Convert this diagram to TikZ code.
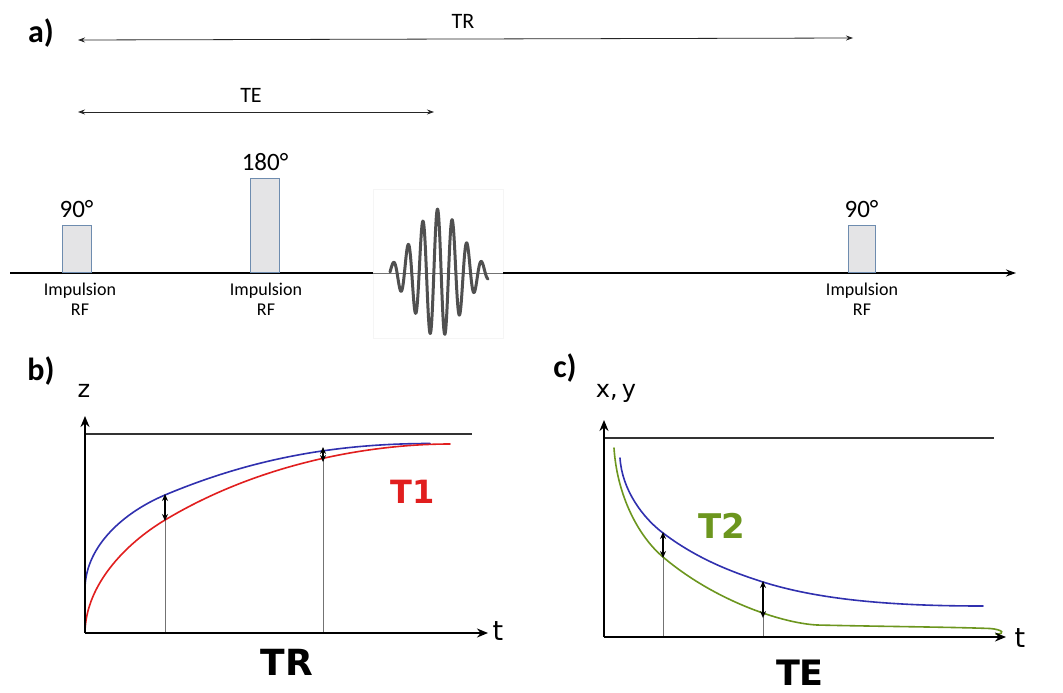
\documentclass[tikz,border=0pt]{standalone}
\usepackage{fontspec}
\setmainfont{Carlito}
\newfontfamily\dv{DejaVu Sans}
\usetikzlibrary{arrows.meta}
\definecolor{cblue}{RGB}{48,48,175}
\definecolor{cred}{RGB}{225,30,30}
\definecolor{cgreen}{RGB}{108,150,30}
\definecolor{pulsefill}{RGB}{228,228,230}
\definecolor{pulseedge}{RGB}{110,140,175}
\definecolor{wavegray}{RGB}{80,80,80}
\tikzset{
  span/.style={{Stealth[length=7pt,width=5pt]}-{Stealth[length=7pt,width=5pt]}, line width=0.8pt, black!85},
  pulsebox/.style={draw=pulseedge, fill=pulsefill, line width=0.9pt, minimum width=29pt, anchor=south, inner sep=0pt},
  small/.style={font=\fontsize{18}{20}\selectfont, align=center, inner sep=0pt},
  deg/.style={font=\fontsize{25}{27}\selectfont, inner sep=0pt},
  toplab/.style={font=\fontsize{22}{24}\selectfont, inner sep=0pt},
  axis/.style={-{Stealth[length=11pt,width=9pt]}, line width=1.8pt, black},
  guide/.style={line width=0.6pt, black!55},
  dbl/.style={{Stealth[length=7pt,width=6pt]}-{Stealth[length=7pt,width=6pt]}, line width=1.2pt, black},
  panel/.style={font=\fontsize{32}{34}\selectfont\bfseries, inner sep=0pt},
  big/.style={font=\dv\bfseries\fontsize{36}{38}\selectfont, inner sep=0pt},
  axlab/.style={font=\dv\fontsize{24}{26}\selectfont, inner sep=0pt},
  curve/.style={line width=1.6pt, line cap=round},
}
\begin{document}
\begin{tikzpicture}[x=1pt,y=-1pt]
\useasboundingbox[fill=white] (0,0) rectangle (1063,693);

% ---------- panel a ----------
\node[panel] (la) at (41,33) {a)};
\coordinate (trL) at (78,40);
\coordinate (trR) at (853,38);
\draw[span] (trL) -- (trR);
\node[toplab] (trlab) at (463,21) {TR};
\coordinate (teL) at (78,112);
\coordinate (teR) at (434,112);
\draw[span] (teL) -- (teR);
\node[toplab] (telab) at (251,95) {TE};

% wave box
\node[draw=black!4, fill=white, minimum width=130pt, minimum height=149pt, inner sep=0pt] (wbox) at (438,263.5) {};
\coordinate (b0) at (10,273);
\coordinate (bend) at (1016,273);
\draw[line width=1.3pt, black] (b0) -- (wbox.west |- b0);
\draw[line width=1.0pt, black!55] (wbox.west |- b0) -- (wbox.east |- b0);
\draw[line width=1.3pt, black, -{Stealth[length=10pt,width=7pt]}] (wbox.east |- b0) -- (bend);
\draw[wavegray, line width=3pt, line cap=round, line join=round]
  plot[domain=390:488, samples=240] (\x, {273 - 64*exp(-((\x-438)*(\x-438))/1100)*cos((\x-437.5)*24.49)});

% pulses
\node[pulsebox, minimum height=47pt] (p1) at (76.5,273) {};
\node[pulsebox, minimum height=94pt] (p2) at (265,273) {};
\node[pulsebox, minimum width=27pt, minimum height=47pt] (p3) at (861.5,273) {};
\node[deg, anchor=south] (d1) at ([yshift=7pt]p1.north) {90°};
\node[deg, anchor=south] (d2) at ([yshift=7pt]p2.north) {180°};
\node[deg, anchor=south] (d3) at ([yshift=7pt]p3.north) {90°};
\node[small, anchor=north] (i1) at (80,283) {Impulsion\\RF};
\node[small, anchor=north] (i2) at (266,283) {Impulsion\\RF};
\node[small, anchor=north] (i3) at (862,283) {Impulsion\\RF};

% ---------- panel b ----------
\node[panel] (lb) at (41,371) {b)};
\coordinate (bo) at (85,633);
\coordinate (by) at (85,416);
\coordinate (bx) at (488,633);
\node[axlab] (zl) at (84,391) {z};
\node[axlab, font=\dv\fontsize{27}{29}\selectfont] (tl) at (498,631) {t};
\coordinate (bt1) at (85,434);
\coordinate (bt2) at (472,434);
\draw[line width=1.2pt, black!80] (bt1) -- (bt2);
\draw[guide] (165,633) -- (165,520);
\draw[guide] (323,633) -- (323,460);
\draw[cblue, curve] (85,588) .. controls (86,545) and (125,511.8) .. (165,495)
  .. controls (255,457.2) and (340,443.5) .. (430,443.5);
\draw[cred, curve] (85,632) .. controls (86,585) and (125,544) .. (165,520)
  .. controls (260,463) and (370,444) .. (450,444);
\draw[axis] (bo) -- (by);
\draw[axis] (bo) -- (bx);
\coordinate (ba1) at (165,494);
\coordinate (ba2) at (165,521);
\draw[dbl] (ba1) -- (ba2);
\coordinate (ba3) at (323,447);
\coordinate (ba4) at (323,462);
\draw[dbl] (ba3) -- (ba4);
\node[big, cred, font=\dv\bfseries\fontsize{32}{34}\selectfont] (t1) at (413,492) {T1};
\node[big] (trb) at (287,662) {TR};

% ---------- panel c ----------
\node[panel] (lc) at (565,368) {c)};
\coordinate (co) at (604,637);
\coordinate (cy) at (604,420);
\coordinate (cx) at (1006,637);
\node[axlab, anchor=base] (xyl) at (616,397) {x,\,y};
\node[axlab, font=\dv\fontsize{27}{29}\selectfont] (tl2) at (1020,638) {t};
\coordinate (ct1) at (604,438);
\coordinate (ct2) at (994,438);
\draw[line width=1.2pt, black!80] (ct1) -- (ct2);
\draw[guide] (663,637) -- (663,557);
\draw[guide] (763,637) -- (763,617);
\draw[cgreen, curve] (614,448) .. controls (617,495) and (638,536) .. (663,557)
  .. controls (713,599.5) and (780,623) .. (817,625)
  .. controls (880,626.5) and (950,627) .. (990,628.5)
  .. controls (1003,629.5) and (1006,634) .. (996,634);
\draw[cblue, curve] (620,458) .. controls (622,490) and (643,518) .. (663,533)
  .. controls (696,558) and (730,571.5) .. (763,582)
  .. controls (823,601) and (900,606) .. (983,606);
\draw[axis] (co) -- (cy);
\draw[axis] (co) -- (cx);
\coordinate (ca1) at (663,532);
\coordinate (ca2) at (663,558);
\draw[dbl] (ca1) -- (ca2);
\coordinate (ca3) at (763,581);
\coordinate (ca4) at (763,618);
\draw[dbl] (ca3) -- (ca4);
\node[big, cgreen, font=\dv\bfseries\fontsize{34}{36}\selectfont] (t2) at (722,526) {T2};
\node[big, font=\dv\bfseries\fontsize{35}{37}\selectfont, anchor=base] (tec) at (800,685) {TE};
\end{tikzpicture}
\end{document}
